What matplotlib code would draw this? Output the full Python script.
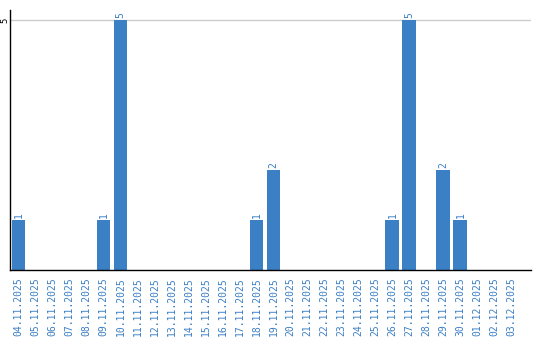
import numpy as np
import matplotlib.pyplot as plt

# days and counts
dates = ["04.11.2025", "05.11.2025", "06.11.2025", "07.11.2025", "08.11.2025",
         "09.11.2025", "10.11.2025", "11.11.2025", "12.11.2025", "13.11.2025",
         "14.11.2025", "15.11.2025", "16.11.2025", "17.11.2025", "18.11.2025",
         "19.11.2025", "20.11.2025", "21.11.2025", "22.11.2025", "23.11.2025",
         "24.11.2025", "25.11.2025", "26.11.2025", "27.11.2025", "28.11.2025",
         "29.11.2025", "30.11.2025", "01.12.2025", "02.12.2025", "03.12.2025"]
counts = [1, 0, 0, 0, 0, 1, 5, 0, 0, 0,
          0, 0, 0, 0, 1, 2, 0, 0, 0, 0,
          0, 0, 1, 5, 0, 2, 1, 0, 0, 0]
y_ticks = [5]

blue = "#3b7fc4"

fig = plt.figure(figsize=(5.4, 3.4), dpi=100)
ax = fig.add_axes([10/540, 70/340, 521/540, 260/340])

x = np.arange(len(dates))
ax.bar(x, counts, width=0.82, color=blue, zorder=2)

for xi, c in zip(x, counts):
    if c > 0:
        ax.text(xi, c + 0.04, str(c), rotation=90, ha="center", va="bottom",
                color=blue, fontsize=7, family="DejaVu Sans Mono")

ax.set_xlim(-0.5, 30.15)
ax.set_ylim(0, 5.2)
ax.set_xticks(x)
ax.set_xticklabels(dates, rotation=90, color=blue, fontsize=7,
                   family="DejaVu Sans Mono")
ax.set_yticks(y_ticks)
ax.set_yticklabels([str(v) for v in y_ticks], rotation=90, va="center",
                   fontsize=6.5, family="DejaVu Sans Mono")
ax.tick_params(length=0)
ax.tick_params(axis="x", pad=5)
ax.tick_params(axis="y", pad=0.5)
ax.yaxis.grid(True, color="#cccccc", linewidth=1, zorder=0)

for s in ["top", "right"]:
    ax.spines[s].set_visible(False)
ax.spines["left"].set_linewidth(1)
ax.spines["bottom"].set_linewidth(1)

fig.savefig("out.png", dpi=100)
